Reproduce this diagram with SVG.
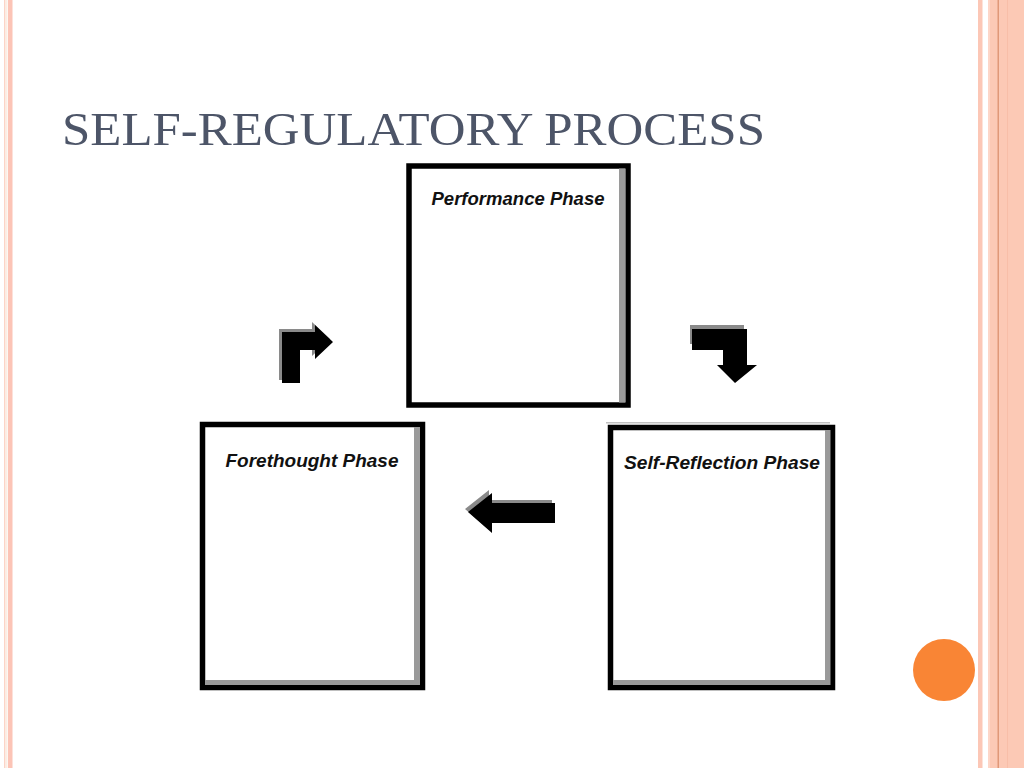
<svg xmlns="http://www.w3.org/2000/svg" width="1024" height="768" viewBox="0 0 1024 768">
<style>
.box{fill:#ffffff;stroke:#000000;stroke-width:5.5}
.shade{fill:#9a9a9a}
.lbl{font-family:"Liberation Sans",Arial,sans-serif;font-weight:bold;font-style:italic;font-size:19px;fill:#111111}
.arr{fill:#000000}
.arrs{fill:#8a8a8a}
</style>
<rect x="0" y="0" width="1024" height="768" fill="#ffffff"/>
<g id="frame">
<rect x="4" y="0" width="1.5" height="768" fill="#fcd4c6"/>
<rect x="5.5" y="0" width="2" height="768" fill="#fbeee4"/>
<rect x="8" y="0" width="4.5" height="768" fill="#fcc4b6"/>
<rect x="978" y="0" width="4.5" height="768" fill="#fcc7b6"/>
<rect x="988" y="0" width="36" height="768" fill="#fcc9b5"/>
<rect x="988" y="0" width="2" height="768" fill="#fdd6c8"/>
<rect x="997.5" y="0" width="1.5" height="768" fill="#e09878"/>
<rect x="1007" y="0" width="1" height="768" fill="#f8bea8"/>
</g>
<text x="62" y="145" font-family="'Liberation Serif','Times New Roman',serif" font-size="47" fill="#4d5568" textLength="703" lengthAdjust="spacingAndGlyphs">SELF-REGULATORY PROCESS</text>
<circle cx="944" cy="670" r="31" fill="#f98535"/>
<g id="performance">
<rect class="box" x="409" y="166" width="219" height="239"/>
<rect class="shade" x="619" y="168.5" width="6.5" height="234"/>
<text class="lbl" x="518" y="205" text-anchor="middle" textLength="173" lengthAdjust="spacingAndGlyphs">Performance Phase</text>
</g>
<g id="forethought">
<rect class="box" x="202.5" y="424.5" width="220" height="263"/>
<rect class="shade" x="414" y="427" width="6" height="258"/>
<rect class="shade" x="205" y="680" width="215" height="5"/>
<text class="lbl" x="312" y="467" text-anchor="middle" textLength="173" lengthAdjust="spacingAndGlyphs">Forethought Phase</text>
</g>
<g id="selfreflection">
<rect class="box" x="610.5" y="427.5" width="222" height="260"/>
<rect class="shade" x="825" y="430" width="5.5" height="255"/>
<rect class="shade" x="613" y="680" width="217" height="5"/>
<rect x="606" y="422" width="224" height="1.5" fill="#c0c0c0"/>
<text class="lbl" x="722" y="469" text-anchor="middle" textLength="196" lengthAdjust="spacingAndGlyphs">Self-Reflection Phase</text>
</g>
<g id="connectors">
<g id="arrow-up-right">
<path class="arrs" d="M279,380 L279,329 L312,329 L312,322 L330,339 L312,356 L312,347 L297,347 L297,380 Z"/>
<path class="arr" d="M282,383 L282,332 L315,332 L315,325 L333,342 L315,359 L315,350 L300,350 L300,383 Z"/>
</g>
<g id="arrow-right-down">
<path class="arrs" d="M690,325 L744,325 L744,344 L690,344 Z"/>
<path class="arr" d="M692,329 L747,329 L747,365 L757,365 L735,383 L717,365 L723,365 L723,350 L692,350 Z"/>
</g>
<g id="arrow-left">
<path class="arrs" d="M465,509 L489,490 L489,500 L552,500 L552,520 L489,520 L489,530 Z"/>
<path class="arr" d="M468,512 L492,493 L492,503 L555,503 L555,523 L492,523 L492,533 Z"/>
</g>
</g>
</svg>
